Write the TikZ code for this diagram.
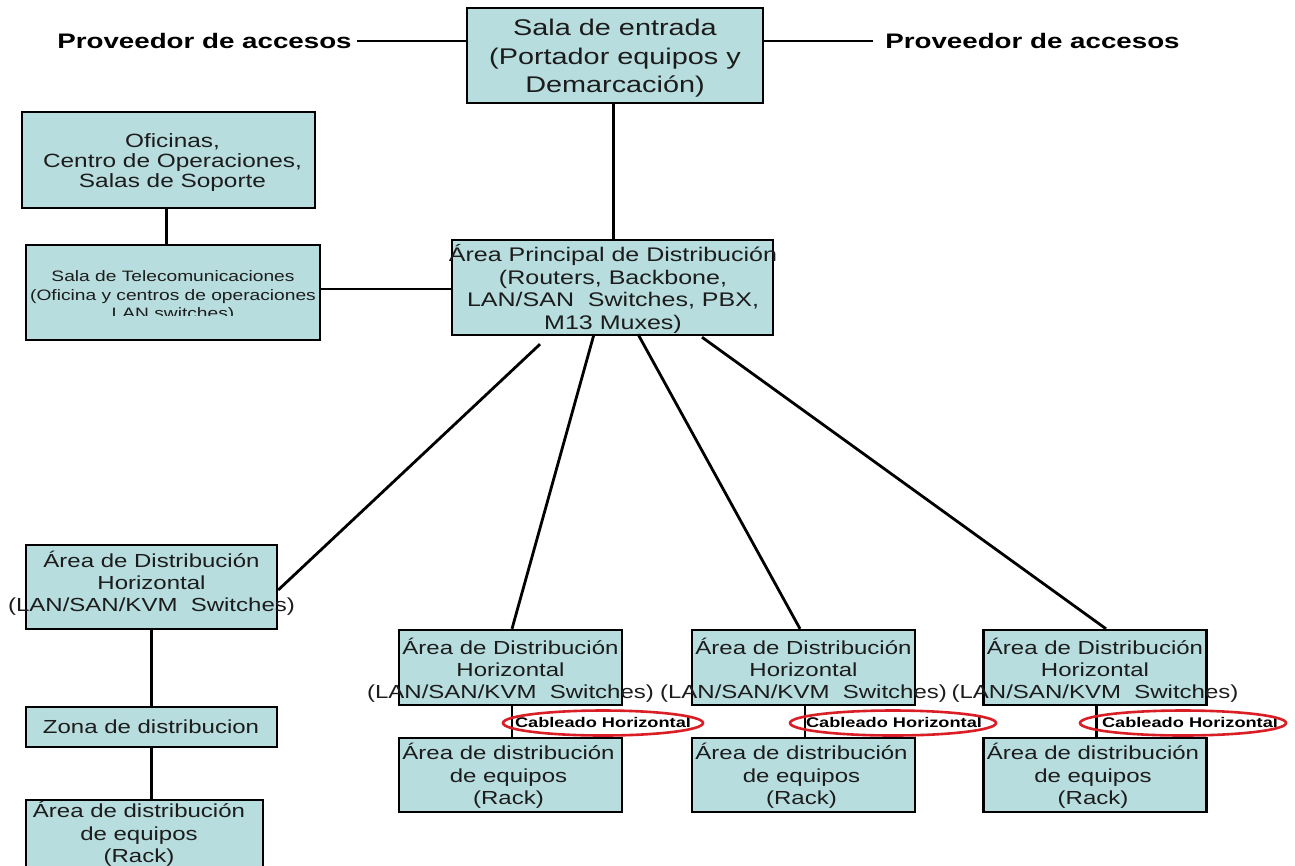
\documentclass[tikz,border=0pt]{standalone}
\usepackage{fontspec}
\setmainfont{Liberation Sans}
% widened sans faces for the box texts and labels
\newfontfamily\boxfont[FakeStretch=1.27]{Liberation Sans}
\newfontfamily\provfont[FakeStretch=1.32]{Liberation Sans}
\newfontfamily\cabfont[FakeStretch=1.3]{Liberation Sans}
\definecolor{boxfill}{RGB}{184,221,222}
\definecolor{boxtext}{RGB}{28,28,28}
\definecolor{ringred}{RGB}{218,30,38}

\begin{document}
\begin{tikzpicture}[x=1pt,y=-1pt,
  box/.style={draw=black, line width=2.4pt, fill=boxfill, rectangle, inner sep=0pt},
  lbl/.style={inner sep=0pt, align=center, text=boxtext},
  t-sala/.style={lbl, font=\boxfont\fontsize{22.7}{28.5}\selectfont},
  t-apd/.style={lbl, font=\boxfont\fontsize{19.7}{22.7}\selectfont},
  t-ofi/.style={lbl, font=\boxfont\fontsize{19.2}{20}\selectfont},
  t-tel/.style={lbl, font=\boxfont\fontsize{15.1}{18.5}\selectfont},
  t-hda/.style={lbl, font=\boxfont\fontsize{18.9}{22}\selectfont},
  t-eq/.style={lbl, font=\boxfont\fontsize{18.9}{22.5}\selectfont},
  prov/.style={inner sep=0pt, text=black, font=\provfont\bfseries\fontsize{21}{25}\selectfont},
  cab/.style={inner sep=0pt, text=black, font=\cabfont\bfseries\fontsize{14}{16}\selectfont},
  ring/.style={draw=ringred, line width=2.6pt},
  link/.style={draw=black, line width=2.8pt},
  thinlink/.style={draw=black, line width=1.6pt}
]
\useasboundingbox (0,0) rectangle (1295,865);

% --- entrance room and access providers
\node[box, minimum width=296pt, minimum height=95pt] (sala) at (615,55.5) {};
\node[t-sala] (sala-t) at (615,58.5) {Sala de entrada\\(Portador equipos y\\Demarcación)};
\node[prov] (provL) at (204.5,41) {Proveedor de accesos};
\node[prov] (provR) at (1032.5,41) {Proveedor de accesos};
\draw[thinlink] ([shift={(5,0)}]provL.east) -- (sala.west |- provL.east);
\draw[thinlink] (sala.east |- provR.west) -- ([shift={(-12,0)}]provR.west);

% --- offices and telecom room
\node[box, minimum width=293pt, minimum height=96pt] (ofi) at (168.5,160) {};
\node[t-ofi] (ofi-t) at (172.5,163) {Oficinas,\\Centro de Operaciones,\\Salas de Soporte};
\node[box, minimum width=294pt, minimum height=95pt] (tel) at (173,292.5) {};
\begin{scope}
  \clip (0,240) rectangle (340,315);
  \node[t-tel] (tel-t) at (173,296.5) {Sala de Telecomunicaciones\\(Oficina y centros de operaciones\\LAN switches)};
\end{scope}
\draw[link] ([shift={(-2,0)}]ofi.south) -- ([shift={(-2,0)}]ofi.south |- tel.north);

% --- main distribution area
\node[box, minimum width=321pt, minimum height=95pt] (apd) at (612.5,287.5) {};
\node[t-apd] (apd-t) at (613,289) {Área Principal de Distribución\\(Routers, Backbone,\\LAN/SAN\ \ Switches, PBX,\\M13 Muxes)};
\draw[link] ([shift={(-1.5,0)}]sala.south) -- ([shift={(-1.5,0)}]sala.south |- apd.north);
\draw[thinlink] ([shift={(0,-3.5)}]tel.east) -- ([shift={(0,-3.5)}]tel.east -| apd.west);

% --- left branch
\node[box, minimum width=251pt, minimum height=84pt] (hda1) at (151.5,587) {};
\node[t-hda] (hda1-t) at (151.5,583.5) {Área de Distribución\\Horizontal\\(LAN/SAN/KVM\ \ Switches)};
\node[box, minimum width=251pt, minimum height=40pt] (zona) at (151.5,727) {};
\node[t-hda] (zona-t) at (151,727) {Zona de distribucion};
\node[box, minimum width=237pt, minimum height=84pt] (eq1) at (144.5,842) {};
\node[t-eq] (eq1-t) at (139,834) {Área de distribución\\de equipos\\(Rack)};
\draw[link] (hda1.south) -- (hda1.south |- zona.north);
\draw[link] (zona.south) -- (zona.south |- eq1.north);

% --- horizontal distribution areas with their equipment racks
\foreach \n/\cx/\rx in {2/510.5/603, 3/803.5/894, 4/1095/1190}{
  \node[box, minimum width=223pt, minimum height=75pt] (hda\n) at (\cx,667.5) {};
  \node[t-hda] (hda\n-t) at (\cx,670) {Área de Distribución\\Horizontal\\(LAN/SAN/KVM\ \ Switches)};
  \node[box, minimum width=223pt, minimum height=74pt] (eq\n) at (\cx,775) {};
  \node[t-eq] (eq\n-t) at (\cx-2,776) {Área de distribución\\de equipos\\(Rack)};
  \draw[link, line width=2.2pt] ([shift={(1.5,0)}]hda\n.south) -- ([shift={(1.5,0)}]hda\n.south |- eq\n.north);
  \node[cab] (cab\n) at (\rx,722.5) {Cableado Horizontal};
}
\draw[ring] (603,723) ellipse [x radius=100pt, y radius=12.5pt];
\draw[ring] (893,723) ellipse [x radius=103pt, y radius=12.5pt];
\draw[ring] (1183,723) ellipse [x radius=103pt, y radius=12.5pt];

% --- links from the main distribution area
\draw[link] ([shift={(-72.5,8)}]apd.south) -- ([shift={(0,3)}]hda1.east);
\draw[link] ([shift={(-18.5,-2)}]apd.south) -- ([shift={(1.5,0)}]hda2.north);
\draw[link] ([shift={(25.5,-2)}]apd.south) -- ([shift={(-3.5,0)}]hda3.north);
\draw[link] ([shift={(89.5,1)}]apd.south) -- ([shift={(11,0)}]hda4.north);
\end{tikzpicture}
\end{document}
